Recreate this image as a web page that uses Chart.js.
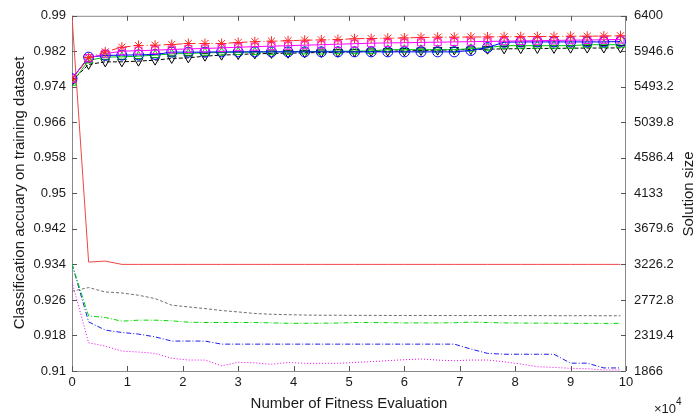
<!DOCTYPE html>
<html><head><meta charset="utf-8">
<script src="https://cdn.jsdelivr.net/npm/chart.js@4/dist/chart.umd.min.js"></script>
<style>html,body{margin:0;padding:0;background:#fff}canvas{display:block}</style>
</head><body>
<canvas id="c" width="697" height="415"></canvas>
<script>
// ---------- data ----------
const evaluations = [0,3000,6000,9000,12000,15000,18000,21000,24000,27000,30000,33000,36000,39000,42000,45000,48000,51000,54000,57000,60000,63000,66000,69000,72000,75000,78000,81000,84000,87000,90000,93000,96000,99000];

// classification accuracy (left axis)
const accRedStar = [0.9757,0.9806,0.98188,0.98293,0.98331,0.98338,0.98354,0.98376,0.98376,0.98376,0.98399,0.98417,0.98428,0.98439,0.9845,0.98457,0.98466,0.98484,0.98488,0.98495,0.98502,0.98511,0.98518,0.98518,0.98522,0.98524,0.98529,0.98529,0.98533,0.98533,0.9854,0.9854,0.98544,0.98551];
const accMagentaSquare = [0.97586,0.98046,0.98147,0.98203,0.98215,0.98226,0.98241,0.98255,0.98264,0.98277,0.98293,0.98304,0.98316,0.98327,0.98338,0.98349,0.9836,0.98372,0.98383,0.9839,0.98394,0.98401,0.98405,0.98412,0.98417,0.98423,0.98428,0.98434,0.98439,0.98446,0.9845,0.98455,0.98461,0.98466];
const accBlueCircle = [0.97582,0.98069,0.98107,0.98114,0.9812,0.98129,0.98181,0.98181,0.98181,0.98188,0.98188,0.98188,0.98188,0.98188,0.98188,0.98188,0.98188,0.98188,0.98188,0.98188,0.98188,0.98188,0.98188,0.98188,0.98219,0.98286,0.98405,0.98412,0.98412,0.98412,0.98412,0.98412,0.98412,0.98421];
const accGreenTriangle = [0.97492,0.97995,0.98069,0.98076,0.98091,0.98114,0.98143,0.98152,0.98166,0.98174,0.98181,0.98181,0.98188,0.98188,0.98197,0.98197,0.98203,0.98203,0.9821,0.98237,0.98237,0.98237,0.98237,0.98237,0.9826,0.98282,0.98327,0.98327,0.98327,0.98327,0.98327,0.98349,0.98349,0.98349];
const accBlackTriangleDown = [0.9753,0.97905,0.97963,0.97963,0.97979,0.98001,0.9804,0.98053,0.98091,0.98114,0.98129,0.98143,0.98152,0.98158,0.98166,0.98174,0.98181,0.98188,0.98197,0.98203,0.9821,0.98219,0.98226,0.98232,0.98241,0.98248,0.98255,0.9826,0.98264,0.98266,0.98271,0.98273,0.98275,0.98277];

// solution size (right axis)
const sizeRed = [6390,3256,3269,3227,3227,3227,3227,3227,3227,3227,3227,3227,3227,3227,3227,3227,3227,3227,3227,3227,3227,3227,3227,3227,3227,3227,3227,3227,3227,3227,3227,3227,3227,3227];
const sizeGray = [2884,2931,2875,2862,2833,2791,2706,2684,2663,2638,2620,2600,2590,2585,2580,2578,2578,2576,2576,2575,2575,2575,2574,2574,2574,2574,2574,2573,2573,2572,2572,2572,2571,2571];
const sizeGreen = [3232,2569,2549,2502,2515,2515,2506,2489,2485,2485,2485,2485,2480,2475,2475,2476,2478,2485,2484,2483,2480,2480,2480,2482,2490,2485,2480,2478,2477,2476,2475,2474,2474,2474];
const sizeBlue = [3232,2493,2388,2358,2337,2302,2248,2248,2248,2209,2209,2209,2209,2209,2209,2209,2209,2209,2209,2209,2209,2209,2209,2209,2146,2091,2080,2080,2080,2080,1966,1966,1905,1905];
const sizeMagenta = [3002,2226,2184,2120,2108,2091,2028,2006,2006,1933,1977,1970,1952,1975,1964,1964,1964,1975,1985,1998,2010,2020,2005,1997,2006,2006,1984,1955,1921,1912,1900,1895,1879,1879];

// ticks
const leftTicks = [0.91,0.918,0.926,0.934,0.942,0.95,0.958,0.966,0.974,0.982,0.99];
const leftTickLabels = ['0.91','0.918','0.926','0.934','0.942','0.95','0.958','0.966','0.974','0.982','0.99'];
const rightTicks = [1866,2319.4,2772.8,3226.2,3679.6,4133,4586.4,5039.8,5493.2,5946.6,6400];
const rightTickLabels = ['1866','2319.4','2772.8','3226.2','3679.6','4133','4586.4','5039.8','5493.2','5946.6','6400'];
const xTicks = [0,10000,20000,30000,40000,50000,60000,70000,80000,90000,100000];
const xTickLabels = ['0','1','2','3','4','5','6','7','8','9','10'];

const xTitle = 'Number of Fitness Evaluation';
const yLeftTitle = 'Classification accuary on training dataset';
const yRightTitle = 'Solution size';

// ---------- chart ----------
const pts = arr => evaluations.map((x, i) => ({x: x, y: arr[i]}));
const FONT = 'Liberation Sans, Arial, Helvetica, sans-serif';
const TXT = '#1a1a1a';

function accSet(label, arr, color, style, dash, rot) {
  return {label, data: pts(arr), yAxisID: 'yL', borderColor: color, borderWidth: 1,
    borderDash: dash, pointStyle: style, pointRadius: 5, pointRotation: rot || 0,
    pointBorderColor: color, pointBackgroundColor: 'rgba(0,0,0,0)', pointBorderWidth: 1,
    fill: false, tension: 0};
}
function sizeSet(label, arr, color, dash) {
  return {label, data: pts(arr), yAxisID: 'yR', borderColor: color, borderWidth: 1,
    borderDash: dash, pointRadius: 0, fill: false, tension: 0};
}

const frame = {
  id: 'frame',
  beforeDatasetsDraw(chart) {
    const {ctx, chartArea: a, scales} = chart;
    ctx.save();
    ctx.strokeStyle = '#8a8a8a';
    ctx.lineWidth = 1;
    ctx.strokeRect(a.left + 0.5, a.top + 0.5, a.right - a.left - 1, a.bottom - a.top);
    ctx.strokeStyle = '#555';
    ctx.beginPath();
    leftTicks.forEach(v => {
      const y = Math.round(scales.yL.getPixelForValue(v)) + 0.5;
      ctx.moveTo(a.left, y); ctx.lineTo(a.left + 5, y);
    });
    rightTicks.forEach(v => {
      const y = Math.round(scales.yR.getPixelForValue(v)) + 0.5;
      ctx.moveTo(a.right - 5, y); ctx.lineTo(a.right, y);
    });
    xTicks.forEach(v => {
      const x = Math.round(scales.x.getPixelForValue(v)) + 0.5;
      ctx.moveTo(x, a.bottom); ctx.lineTo(x, a.bottom - 5);
      ctx.moveTo(x, a.top); ctx.lineTo(x, a.top + 5);
    });
    ctx.stroke();
    ctx.restore();
  },
  afterDraw(chart) {
    const {ctx, chartArea: a} = chart;
    ctx.save();
    ctx.fillStyle = TXT;
    ctx.font = '15px ' + FONT;
    ctx.textAlign = 'center';
    ctx.textBaseline = 'middle';
    ctx.fillText(xTitle, (a.left + a.right) / 2, 404);
    ctx.save();
    ctx.translate(20, 193);
    ctx.rotate(-Math.PI / 2);
    ctx.fillText(yLeftTitle, 0, 0);
    ctx.restore();
    ctx.save();
    ctx.translate(689, 194);
    ctx.rotate(-Math.PI / 2);
    ctx.fillText(yRightTitle, 0, 0);
    ctx.restore();
    ctx.font = '13px ' + FONT;
    ctx.textAlign = 'left';
    ctx.textBaseline = 'alphabetic';
    ctx.fillText('\u00d710', 654, 413);
    ctx.font = '10px ' + FONT;
    ctx.fillText('4', 676, 405);
    ctx.restore();
  }
};

new Chart(document.getElementById('c'), {
  type: 'line',
  data: {
    datasets: [
      accSet('acc1', accRedStar, 'rgb(255,40,40)', 'star', [6,3,1,3]),
      accSet('acc2', accMagentaSquare, 'rgb(255,0,255)', 'rect', []),
      accSet('acc3', accBlueCircle, 'rgb(0,0,255)', 'circle', []),
      accSet('acc4', accGreenTriangle, 'rgb(0,200,0)', 'triangle', []),
      accSet('acc5', accBlackTriangleDown, 'rgb(0,0,0)', 'triangle', [4,2], 180),
      sizeSet('size1', sizeRed, 'rgb(240,70,70)', []),
      sizeSet('size2', sizeGray, 'rgb(110,110,110)', [3,2]),
      sizeSet('size3', sizeGreen, 'rgb(0,220,0)', [5,2,1,2]),
      sizeSet('size4', sizeBlue, 'rgb(30,30,240)', [5,2,1,2]),
      sizeSet('size5', sizeMagenta, 'rgb(240,0,240)', [1,2])
    ]
  },
  options: {
    responsive: false,
    animation: false,
    devicePixelRatio: 1,
    layout: {padding: {top: 14, left: 0, right: 0, bottom: 0}},
    plugins: {legend: {display: false}, tooltip: {enabled: false}},
    scales: {
      x: {
        type: 'linear', min: 0, max: 100000,
        afterBuildTicks: s => { s.ticks = xTicks.map(v => ({value: v})); },
        ticks: {callback: (v, i) => xTickLabels[i], font: {size: 13, family: FONT}, color: TXT, padding: 4, maxRotation: 0, autoSkip: false},
        grid: {display: false, drawTicks: false},
        border: {display: false},
        afterFit: s => { s.height = 44; }
      },
      yL: {
        type: 'linear', position: 'left', min: 0.91, max: 0.99,
        afterBuildTicks: s => { s.ticks = leftTicks.map(v => ({value: v})); },
        ticks: {callback: (v, i) => leftTickLabels[i], font: {size: 13, family: FONT}, color: TXT, padding: 6, autoSkip: false},
        grid: {display: false, drawTicks: false},
        border: {display: false},
        afterFit: s => { s.width = 72; }
      },
      yR: {
        type: 'linear', position: 'right', min: 1866, max: 6400,
        afterBuildTicks: s => { s.ticks = rightTicks.map(v => ({value: v})); },
        ticks: {callback: (v, i) => rightTickLabels[i], font: {size: 13, family: FONT}, color: TXT, padding: 8, autoSkip: false},
        grid: {display: false, drawTicks: false},
        border: {display: false},
        afterFit: s => { s.width = 71; }
      }
    }
  },
  plugins: [frame]
});
</script>
</body></html>
